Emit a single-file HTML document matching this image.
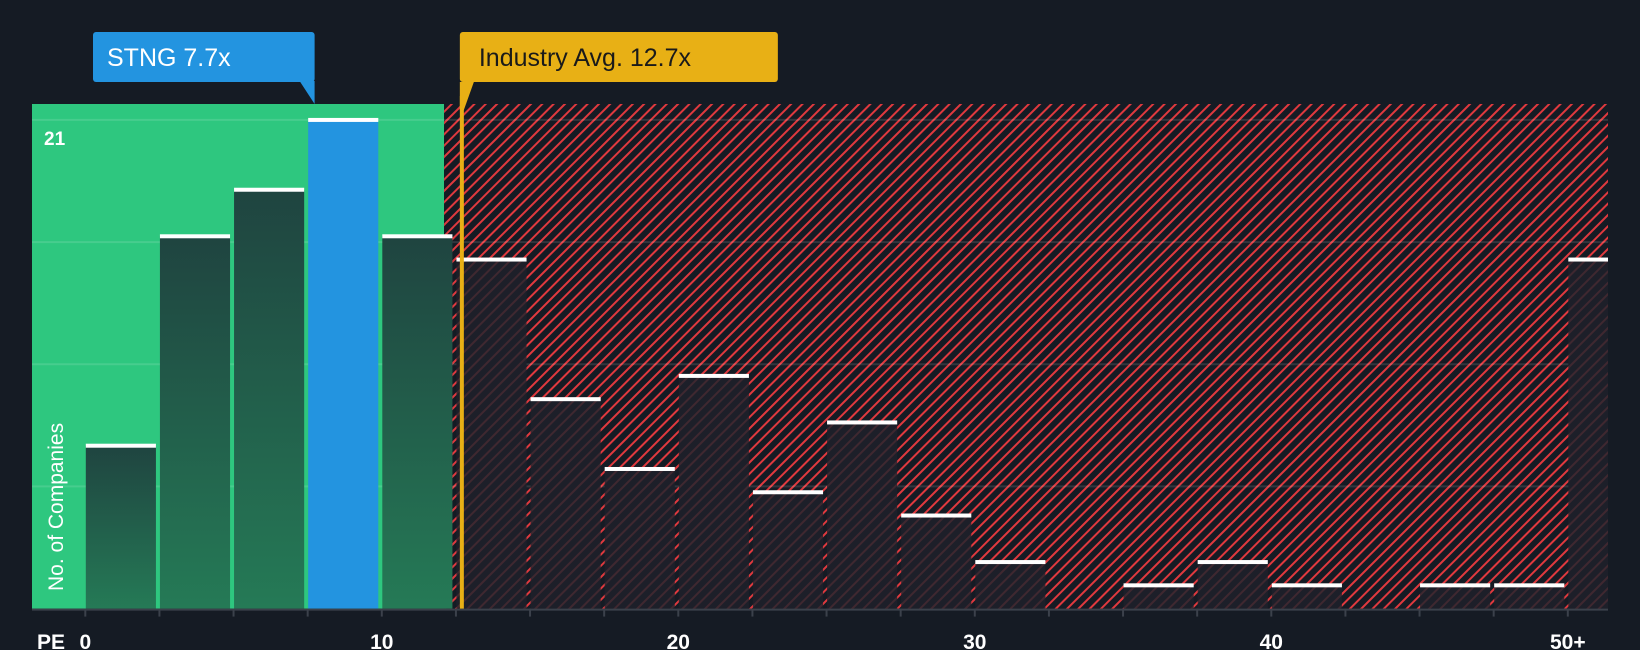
<!DOCTYPE html>
<html><head><meta charset="utf-8"><style>
html,body{margin:0;padding:0;background:#151b24;}
svg{display:block;font-family:"Liberation Sans",sans-serif;}
</style></head><body>
<svg id="chart" width="1640" height="650" viewBox="0 0 1640 650">
<defs>
<pattern id="hatch" patternUnits="userSpaceOnUse" width="8" height="8" patternTransform="rotate(45)">
<rect width="8" height="8" fill="#151b24"/>
<rect x="0" y="0" width="2" height="8" fill="#e0393e"/>
</pattern>
<pattern id="hatchDark" patternUnits="userSpaceOnUse" width="8" height="8" patternTransform="rotate(45)">
<rect width="8" height="8" fill="#1d1f29"/>
<rect x="0" y="0" width="2" height="8" fill="#3f2830"/>
</pattern>
<linearGradient id="gbar" x1="0" y1="0" x2="0" y2="1"><stop offset="0" stop-color="#1f4440"/><stop offset="1" stop-color="#257a56"/></linearGradient>
<clipPath id="plotclip"><rect x="32" y="104" width="1576" height="505"/></clipPath>
</defs>
<rect width="1640" height="650" fill="#151b24"/>
<g id="plot" clip-path="url(#plotclip)"></g>
<g id="overlay"></g>
</svg>
<script>
const binStarts = [0,2.5,5,7.5,10,12.5,15,17.5,20,22.5,25,27.5,30,32.5,35,37.5,40,42.5,45,47.5,50];
const counts = [7,16,18,21,16,15,9,6,10,5,8,4,2,0,1,2,1,0,1,1,15];
const tickValues = [0,10,20,30,40,50];
const tickLabels = ["0","10","20","30","40","50+"];
const companyPE = 7.7;
const industryPE = 12.7;
const greenLimit = 12.1;
const yMax = 21;

const NS = "http://www.w3.org/2000/svg";
const X0 = 85.3, PXU = 29.65, YB = 608.6, PXY = 23.27;
const PL = 32, PR = 1608, PT = 104;
const x = v => X0 + v * PXU;
const y = v => YB - v * PXY;
function mk(tag, attrs, parent){const e=document.createElementNS(NS,tag);for(const k in attrs)e.setAttribute(k,attrs[k]);parent.appendChild(e);return e;}
const plot=document.getElementById('plot'), ov=document.getElementById('overlay');

let r=mk('rect',{x:PL,y:PT,width:x(greenLimit)-PL,height:YB-PT,fill:'#2ec77f'},plot);


r=mk('rect',{x:x(greenLimit),y:PT,width:PR-x(greenLimit),height:YB-PT,fill:'url(#hatch)'},plot);



for(let i=1;i<=4;i++){
  const gy=y(yMax*i/4);
  const g=mk('line',{x1:PL,x2:PR,y1:gy,y2:gy,stroke:'rgba(255,255,255,0.12)','stroke-width':2},plot);
  
  
}

binStarts.forEach((b,i)=>{
  const c=counts[i];
  if(c<=0)return;
  const bx=x(b)+0.5, bw=2.5*PXU-4;
  const isCo = companyPE>=b && companyPE<b+2.5;
  const fill = isCo ? '#2394e0' : (b<greenLimit ? 'url(#gbar)' : 'url(#hatchDark)');
  const rr=mk('rect',{x:bx,y:y(c),width:bw,height:YB-y(c),fill:fill},plot);
  
  
  const cap=mk('rect',{x:bx,y:y(c)-2,width:bw,height:4,fill:'#ffffff'},plot);
  
  
});

let ax=mk('line',{x1:PL,x2:PR,y1:YB+1,y2:YB+1,stroke:'#3b414b','stroke-width':2},ov);


for(let i=0;i<=20;i++){
  const tx=x(i*2.5);
  const t=mk('line',{x1:tx,x2:tx,y1:YB,y2:YB+8,stroke:'#3b414b','stroke-width':2},ov);
  
  
}
tickValues.forEach((v,i)=>{
  const t=mk('text',{x:x(v),y:649,'text-anchor':'middle',fill:'#ffffff','font-size':21,'font-weight':'bold'},ov);
  t.textContent=tickLabels[i];
  
  
});
let t=mk('text',{x:37,y:649,fill:'#ffffff','font-size':21,'font-weight':'bold'},ov);
t.textContent='PE';


t=mk('text',{x:44,y:145,fill:'#ffffff','font-size':19,'font-weight':'bold'},ov);
t.textContent=String(yMax);


t=mk('text',{x:63,y:591,fill:'#ffffff','font-size':21,transform:'rotate(-90 63 591)'},ov);
t.textContent='No. of Companies';



const ix=x(industryPE);
let l=mk('rect',{x:ix-2,y:PT-8,width:4,height:YB-PT+8,fill:'#e8b015'},ov);


let p=mk('path',{d:`M${ix-2} 82 L${ix+12} 82 L${ix+2} 110 L${ix-2} 110 Z`,fill:'#e8b015'},ov);


let b=mk('rect',{x:ix-2,y:32,width:318,height:50,rx:3,fill:'#e8b015'},ov);


t=mk('text',{x:ix+17,y:66,fill:'#1a1a1a','font-size':25},ov);
t.textContent='Industry Avg. '+industryPE+'x';



const cx=x(companyPE);
p=mk('path',{d:`M${cx-14} 81 L${cx+1} 81 L${cx+1} 104 Z`,fill:'#2394e0'},ov);


b=mk('rect',{x:93,y:32,width:cx+1-93,height:50,rx:3,fill:'#2394e0'},ov);


t=mk('text',{x:107,y:66,fill:'#ffffff','font-size':25},ov);
t.textContent='STNG '+companyPE+'x';


</script>
</body></html>
